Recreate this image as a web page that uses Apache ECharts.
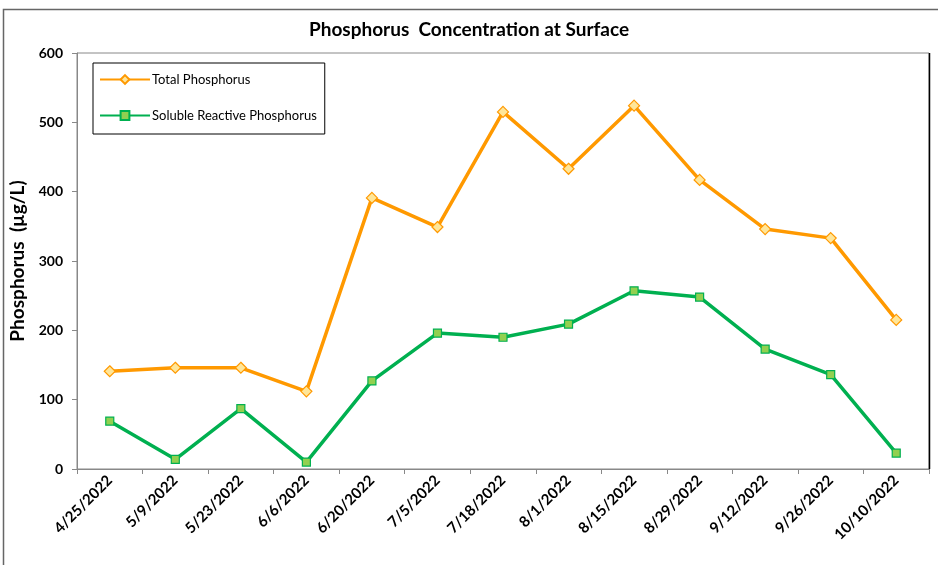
<!DOCTYPE html>
<html>
<head>
<meta charset="utf-8">
<script src="https://cdn.jsdelivr.net/npm/echarts@6/dist/echarts.min.js"></script>
<style>
html,body{margin:0;padding:0;background:#fff;}
#chart{width:938px;height:565px;}
</style>
</head>
<body>
<div id="chart"></div>
<script>
const categories = ['4/25/2022','5/9/2022','5/23/2022','6/6/2022','6/20/2022','7/5/2022','7/18/2022','8/1/2022','8/15/2022','8/29/2022','9/12/2022','9/26/2022','10/10/2022'];
const totalPhosphorus = [141, 146, 146, 112, 391, 349, 515, 433, 524, 417, 346, 333, 215];
const solubleReactivePhosphorus = [69, 14, 87, 10, 127, 196, 190, 209, 257, 248, 173, 136, 23];
const yTicks = [0, 100, 200, 300, 400, 500, 600];

const FONT = 'Lato, "Liberation Sans", sans-serif';
const chart = echarts.init(document.getElementById('chart'), null, {renderer: 'canvas'});
chart.setOption({
  backgroundColor: '#fff',
  animation: false,
  title: {
    text: 'Phosphorus  Concentration at Surface',
    left: 'center', top: 15,
    textStyle: {fontFamily: FONT, fontSize: 19, fontWeight: 'bold', color: '#000'}
  },
  graphic: [
    {type: 'rect', shape: {x: 3.5, y: 9.5, width: 945, height: 570}, style: {fill: 'none', stroke: '#666', lineWidth: 1.5}, silent: true},
    {type: 'line', shape: {x1: 929.5, y1: 53, x2: 929.5, y2: 469}, style: {stroke: '#000', lineWidth: 1.5}, silent: true, z: 10}
  ],
  legend: {
    orient: 'vertical',
    left: 93, top: 63,
    padding: [10, 8, 12, 6],
    itemGap: 23,
    itemWidth: 50, itemHeight: 11,
    borderColor: '#000', borderWidth: 1,
    backgroundColor: '#fff',
    textStyle: {fontFamily: FONT, fontSize: 13, color: '#000', padding: [0,0,0,-3]},
    data: ['Total Phosphorus', 'Soluble Reactive Phosphorus']
  },
  grid: {left: 77, right: 9, top: 53, bottom: 96, show: true, borderColor: '#888', borderWidth: 1},
  xAxis: {
    type: 'category',
    data: categories,
    boundaryGap: true,
    axisLine: {lineStyle: {color: '#888', width: 1}},
    axisTick: {show: true, length: 5, lineStyle: {color: '#888'}},
    axisLabel: {rotate: 45, fontFamily: FONT, fontSize: 15, fontWeight: 'bold', color: '#000', margin: 9, interval: 0}
  },
  yAxis: {
    type: 'value',
    min: 0, max: 600, interval: 100,
    name: 'Phosphorus  (µg/L)',
    nameLocation: 'middle',
    nameGap: 46,
    nameTextStyle: {fontFamily: FONT, fontSize: 19, fontWeight: 'bold', color: '#000'},
    axisLine: {show: true, lineStyle: {color: '#888'}},
    axisTick: {show: true, length: 5, lineStyle: {color: '#888'}},
    splitLine: {show: false},
    axisLabel: {fontFamily: FONT, fontSize: 14, fontWeight: 'bold', color: '#000', margin: 14,
      formatter: v => yTicks.includes(v) ? String(v) : ''}
  },
  series: [
    {
      name: 'Total Phosphorus',
      type: 'line',
      data: totalPhosphorus,
      symbol: 'diamond',
      symbolSize: 11,
      lineStyle: {color: '#FF9900', width: 3.5},
      itemStyle: {color: '#FFE699', borderColor: '#FF9900', borderWidth: 1.2},
      z: 3
    },
    {
      name: 'Soluble Reactive Phosphorus',
      type: 'line',
      data: solubleReactivePhosphorus,
      symbol: 'rect',
      symbolSize: 8,
      lineStyle: {color: '#00B050', width: 3.5},
      itemStyle: {color: '#92D050', borderColor: '#00B050', borderWidth: 1.2},
      z: 2
    }
  ]
});
</script>
</body>
</html>
